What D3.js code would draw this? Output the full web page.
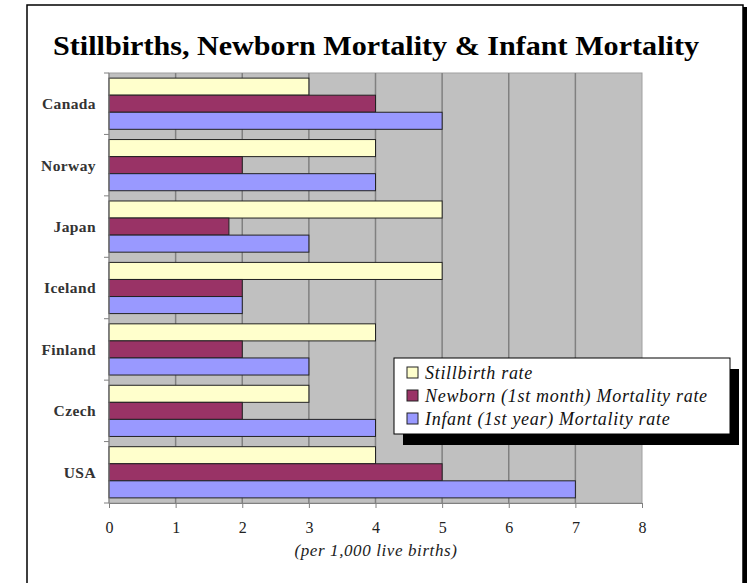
<!DOCTYPE html>
<html>
<head>
<meta charset="utf-8">
<script src="https://cdn.jsdelivr.net/npm/d3@7"></script>
<style>
  body { margin: 0; background: #fff; }
  svg { display: block; }
  text { font-family: Georgia, "Liberation Serif", "DejaVu Serif", serif; }
</style>
</head>
<body>
<div id="chart"></div>
<script>
// chart data
var countries = ["Canada", "Norway", "Japan", "Iceland", "Finland", "Czech", "USA"];
var seriesNames = ["Stillbirth rate", "Newborn (1st month) Mortality rate", "Infant (1st year) Mortality rate"];
var stillbirth = [3, 4, 5, 5, 4, 3, 4];
var newborn = [4, 2, 1.8, 2, 2, 2, 5];
var infant = [5, 4, 3, 2, 3, 4, 7];
var xTicks = [0, 1, 2, 3, 4, 5, 6, 7, 8];
var colors = ["#FFFFCC", "#993366", "#9999FF"];

var svgWidth = 754, svgHeight = 583;
var margin = { top: 73, right: 112, bottom: 80, left: 109 };
var width = svgWidth - margin.left - margin.right;
var height = svgHeight - margin.top - margin.bottom;

var svg = d3.select("#chart").append("svg")
  .attr("width", svgWidth)
  .attr("height", svgHeight);

// outer frame with shadow on the right
svg.append("rect").attr("x", 29).attr("y", 7).attr("width", 718).attr("height", 590).attr("fill", "#000");
svg.append("rect").attr("x", 27).attr("y", 5).attr("width", 716).attr("height", 590)
  .attr("fill", "#fff").attr("stroke", "#000").attr("stroke-width", 1.5);

svg.append("text")
  .attr("x", 376).attr("y", 55)
  .attr("text-anchor", "middle")
  .attr("font-size", 27).attr("font-weight", "bold")
  .attr("textLength", 646).attr("lengthAdjust", "spacingAndGlyphs")
  .text("Stillbirths, Newborn Mortality & Infant Mortality");

var chartGroup = svg.append("g")
  .attr("transform", `translate(${margin.left}, ${margin.top})`);

var x = d3.scaleLinear().domain([0, 8]).range([0, width]);
var y = d3.scaleBand().domain(countries).range([0, height]).paddingInner(0).paddingOuter(0);
var sub = d3.scaleBand().domain([0, 1, 2]).range([0, y.bandwidth()]).paddingOuter(0.3);

// plot background
chartGroup.append("rect")
  .attr("width", width).attr("height", height)
  .attr("fill", "#C0C0C0").attr("stroke", "#A0A0A0").attr("stroke-width", 1);

// gridlines
chartGroup.selectAll(".grid").data(xTicks.slice(1, -1)).enter()
  .append("line")
  .attr("x1", d => x(d)).attr("x2", d => x(d))
  .attr("y1", 0).attr("y2", height)
  .attr("stroke", "#808080").attr("stroke-width", 1.5);

var table = countries.map((c, i) => ({ country: c, values: [stillbirth[i], newborn[i], infant[i]] }));

var groups = chartGroup.selectAll(".country").data(table).enter()
  .append("g")
  .attr("transform", d => `translate(0, ${y(d.country)})`);

groups.selectAll("rect").data(d => d.values).enter()
  .append("rect")
  .attr("x", 0)
  .attr("y", (d, i) => sub(i))
  .attr("width", d => x(d))
  .attr("height", sub.bandwidth())
  .attr("fill", (d, i) => colors[i])
  .attr("stroke", "#222").attr("stroke-width", 1);

// x axis
var xAxis = chartGroup.append("g")
  .attr("transform", `translate(0, ${height})`)
  .call(d3.axisBottom(x).tickValues(xTicks).tickSize(5).tickPadding(14).tickFormat(d3.format("d")));
xAxis.select(".domain").attr("stroke", "#808080");
xAxis.selectAll(".tick line").attr("stroke", "#808080");
xAxis.selectAll("text").attr("font-size", 16).attr("fill", "#222");

// y axis: ticks at band boundaries
var yAxis = chartGroup.append("g");
yAxis.append("line").attr("x1", 0).attr("x2", 0).attr("y1", 0).attr("y2", height)
  .attr("stroke", "#808080");
yAxis.selectAll(".ytick").data(countries.concat(["end"])).enter()
  .append("line")
  .attr("x1", -5).attr("x2", 0)
  .attr("y1", (d, i) => i < countries.length ? y(d) : height)
  .attr("y2", (d, i) => i < countries.length ? y(d) : height)
  .attr("stroke", "#808080");
yAxis.selectAll(".ylabel").data(countries).enter()
  .append("text")
  .attr("x", -13)
  .attr("y", d => y(d) + y.bandwidth() / 2)
  .attr("dy", "0.35em")
  .attr("text-anchor", "end")
  .attr("font-size", 15.5).attr("font-weight", "bold").attr("fill", "#333")
  .attr("letter-spacing", 0.4)
  .text(d => d);

svg.append("text")
  .attr("x", 376).attr("y", 556)
  .attr("text-anchor", "middle")
  .attr("font-size", 17).attr("font-style", "italic").attr("fill", "#222")
  .attr("letter-spacing", 0.6)
  .text("(per 1,000 live births)");

// legend with shadow
var legend = svg.append("g").attr("transform", "translate(394, 358)");
legend.append("rect").attr("x", 9).attr("y", 11).attr("width", 336).attr("height", 76).attr("fill", "#000");
legend.append("rect").attr("width", 336).attr("height", 76)
  .attr("fill", "#fff").attr("stroke", "#000").attr("stroke-width", 1);
var items = legend.selectAll(".item").data(seriesNames).enter()
  .append("g")
  .attr("transform", (d, i) => `translate(13, ${9 + i * 23})`);
items.append("rect").attr("width", 11).attr("height", 11)
  .attr("fill", (d, i) => colors[i]).attr("stroke", "#222");
items.append("text")
  .attr("x", 18).attr("y", 6).attr("dy", "0.35em")
  .attr("font-size", 18).attr("font-style", "italic").attr("fill", "#111")
  .attr("letter-spacing", 0.7)
  .text(d => d);
</script>
</body>
</html>
